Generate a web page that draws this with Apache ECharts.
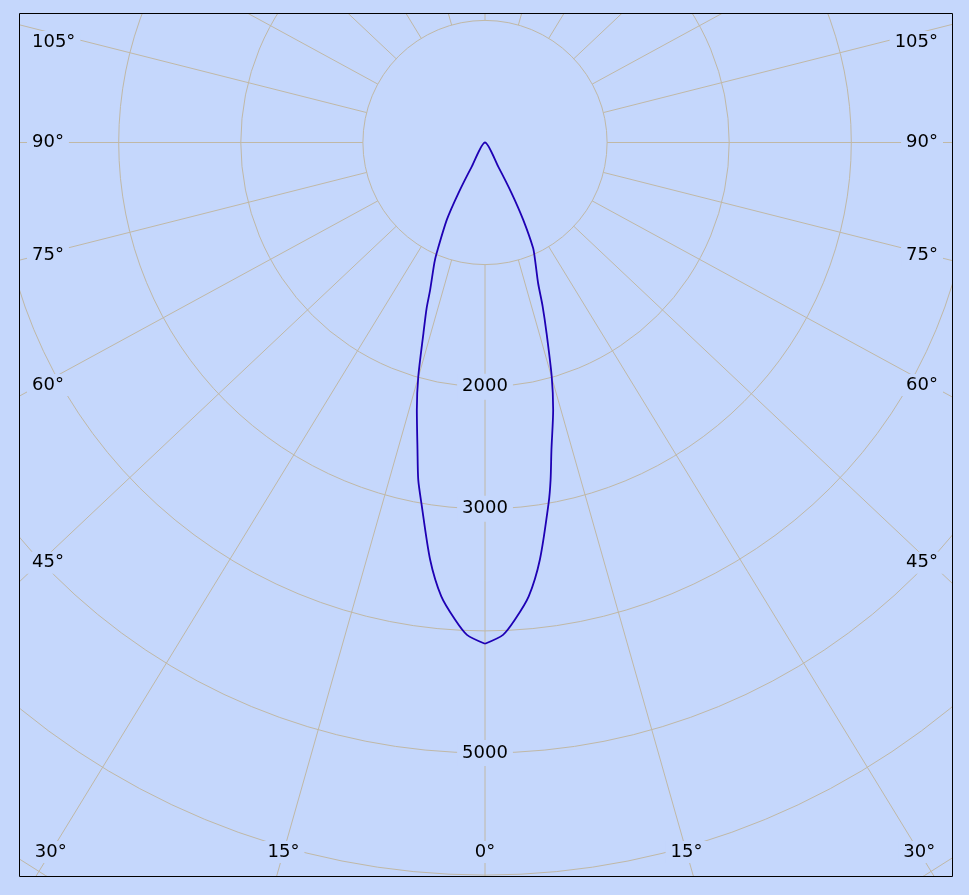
<!DOCTYPE html>
<html><head><meta charset="utf-8">
<script src="https://cdn.jsdelivr.net/npm/echarts@6/dist/echarts.min.js"></script>
<style>html,body{margin:0;padding:0;background:#c5d7fc}#c{width:969px;height:895px}</style>
</head><body><div id="c"></div>
<script>
// ---- data ----
const angleLabels = [0, 15, 30, 45, 60, 75, 90, 105];          // gamma labels (deg), shown on both sides
const radiusLabels = [2000, 3000, 5000];                        // labelled rings (cd)
const ringStep = 1000;
const ringMax = 8000;
// right half (C0) : screen angle from nadir (deg) / intensity (cd)
const gammaRight = [0, 2.1, 3.6, 5.5, 7.5, 10.0, 11.0, 12.2, 14.3, 15.9, 17.9, 19.4, 20.7, 23.1, 24.5, 26.3, 27.7, 28.8, 30.0];
const cdRight    = [4105, 4035, 3915, 3735, 3445, 3000, 2815, 2575, 2260, 1995, 1640, 1420, 1230, 1045, 950, 705, 470, 225, 0];
// left half (C180)
const gammaLeft  = [0, 2.1, 3.6, 5.5, 7.5, 10.0, 11.2, 12.4, 14.3, 15.9, 17.9, 19.4, 20.4, 22.8, 23.6, 26.3, 27.7, 28.8, 30.0];
const cdLeft     = [4105, 4035, 3915, 3735, 3445, 3000, 2815, 2575, 2260, 1995, 1640, 1440, 1290, 1070, 990, 705, 470, 225, 0];

// ---- style / layout ----
const BG = '#c5d7fc', GRID = '#c0b8a6', CURVE = '#1e00b4';
const CX = 485, CY = 142.5, PX_PER_RING = 122.1;
const R = ringMax / ringStep * PX_PER_RING;
const INNER = PX_PER_RING;
const SKEW = 1.06, LABEL_SKEW = 1.04;
const FONT_FAMILY = '"DejaVu Sans", Verdana, sans-serif';
const FONT = '18px ' + FONT_FAMILY;
const BOX = {x: 19, y: 13, w: 933, h: 863};
const LBL = {left: 32, right: 938, top: 33, bottom: 861};

function skewAngle(g, k) {
  const r = g * Math.PI / 180;
  return Math.atan2(k * Math.sin(r), Math.cos(r)) * 180 / Math.PI;
}
const spokeValues = [];
for (let g = 0; g <= 180; g += 15) {
  const a = skewAngle(g, SKEW);
  spokeValues.push(a);
  if (a > 0 && a < 180) spokeValues.push(360 - a);
}

const curve = [];
gammaRight.forEach((g, i) => curve.push([cdRight[i], g]));
for (let i = gammaLeft.length - 1; i >= 0; i--) curve.push([cdLeft[i], 360 - gammaLeft[i]]);

const angleBase = {type: 'value', min: 0, max: 360, startAngle: 270, clockwise: false};

const chart = echarts.init(document.getElementById('c'), null, {renderer: 'canvas'});
chart.setOption({
  backgroundColor: BG,
  animation: false,
  polar: [
    {center: [CX, CY], radius: [0, R]},
    {center: [CX, CY], radius: [INNER, R]}
  ],
  angleAxis: [
    Object.assign({polarIndex: 0, show: false}, angleBase),
    Object.assign({
      polarIndex: 1, z: 1,
      axisLine: {show: false},
      axisTick: {show: false, customValues: spokeValues},
      axisLabel: {show: false},
      splitLine: {show: true, lineStyle: {color: GRID, width: 1}}
    }, angleBase)
  ],
  radiusAxis: [
    {
      polarIndex: 0, type: 'value', min: 0, max: ringMax, interval: ringStep, z: 3,
      axisLine: {show: false},
      axisTick: {show: false},
      splitLine: {show: true, lineStyle: {color: GRID, width: 1}},
      axisLabel: {
        show: true, customValues: radiusLabels, margin: 0,
        formatter: v => String(v),
        align: 'center', verticalAlign: 'middle',
        color: '#000', fontSize: 18, fontFamily: FONT_FAMILY,
        backgroundColor: BG, padding: [4, 5]
      }
    },
    {polarIndex: 1, type: 'value', min: 0, max: ringMax, show: false}
  ],
  series: [{
    type: 'line', coordinateSystem: 'polar', polarIndex: 0,
    data: curve, symbol: 'none', z: 10, clip: false, smooth: 0.25,
    lineStyle: {color: CURVE, width: 1.8}
  }]
});

// ---- angle labels at the frame edge ----
const ctx = document.createElement('canvas').getContext('2d');
ctx.font = FONT;
const graphics = [
  {type: 'rect', z: 100, shape: {x: 0, y: 0, width: 969, height: BOX.y}, style: {fill: BG}},
  {type: 'rect', z: 100, shape: {x: 0, y: BOX.y + BOX.h, width: 969, height: 895 - BOX.y - BOX.h}, style: {fill: BG}},
  {type: 'rect', z: 100, shape: {x: 0, y: 0, width: BOX.x, height: 895}, style: {fill: BG}},
  {type: 'rect', z: 100, shape: {x: BOX.x + BOX.w, y: 0, width: 969 - BOX.x - BOX.w, height: 895}, style: {fill: BG}},
  {type: 'rect', z: 101, shape: {x: BOX.x + 0.5, y: BOX.y + 0.5, width: BOX.w, height: BOX.h}, style: {fill: null, stroke: '#000', lineWidth: 1}}
];
function toPix(r, a) {
  let p = null;
  try { p = chart.convertToPixel({polarIndex: 0}, [r, a]); } catch (e) { p = null; }
  if (!p || isNaN(p[0])) {
    const rad = a * Math.PI / 180;
    p = [CX + r / ringStep * PX_PER_RING * Math.sin(rad), CY + r / ringStep * PX_PER_RING * Math.cos(rad)];
  }
  return p;
}
const c0 = toPix(0, 0);
function placeLabel(a, w, h) {
  const p = toPix(1000, a);
  const dx = p[0] - c0[0], dy = p[1] - c0[1];
  const ts = [];
  let bottomT = Infinity;
  if (dx > 1e-6) ts.push((LBL.right - w / 2 - c0[0]) / dx);
  if (dx < -1e-6) ts.push((LBL.left + w / 2 - c0[0]) / dx);
  if (dy > 1e-6) { bottomT = (LBL.bottom - h / 2 - c0[1]) / dy; ts.push(bottomT); }
  const t = Math.min.apply(null, ts);
  return {x: c0[0] + t * dx, y: Math.max(c0[1] + t * dy, LBL.top + h / 2), bottom: t === bottomT};
}
angleLabels.forEach(g => {
  [1, -1].forEach(side => {
    if (side === -1 && g === 0) return;
    const txt = g + '°';
    const w = ctx.measureText(txt).width, h = 18;
    const toA = k => { const s = skewAngle(g, k); return side === 1 ? s : 360 - s; };
    let pos = placeLabel(toA(LABEL_SKEW), w, h);
    if (pos.bottom) pos = placeLabel(toA(SKEW), w, h);
    graphics.push({
      type: 'text', z: 102, x: pos.x, y: pos.y,
      style: {text: txt, font: FONT, fill: '#000', align: 'center', verticalAlign: 'middle',
              backgroundColor: BG, padding: [2, 5]}
    });
  });
});
chart.setOption({graphic: graphics});
</script>
</body></html>
